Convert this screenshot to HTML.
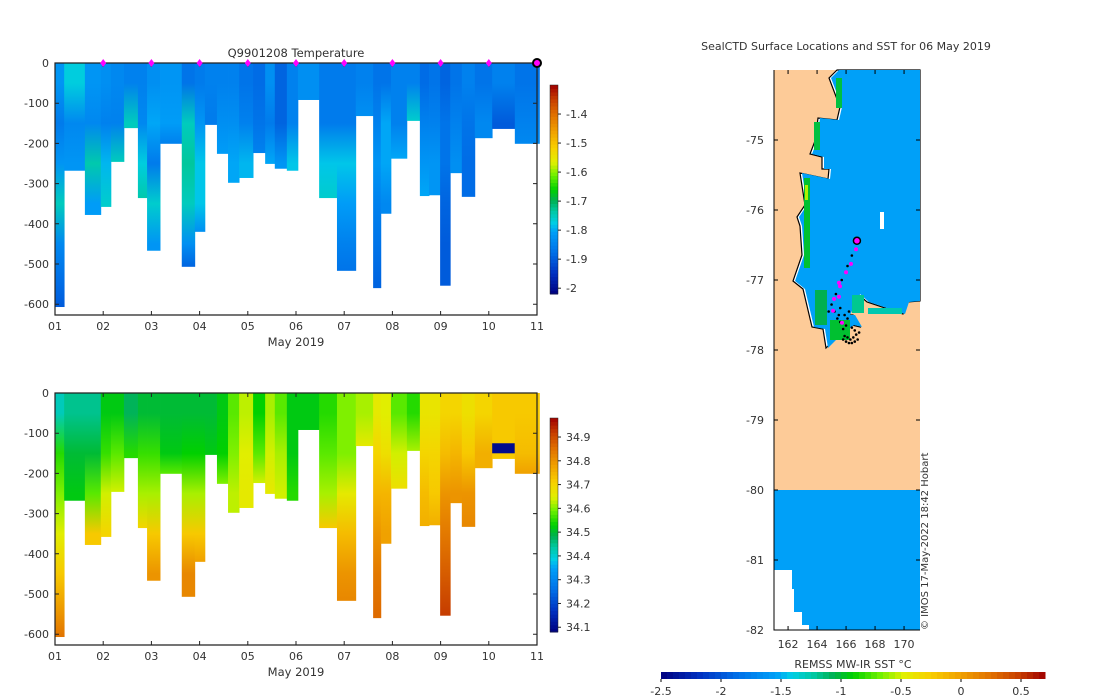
<!DOCTYPE html>
<html><head><meta charset="utf-8"><style>
body{margin:0;background:#fff;width:1100px;height:700px;overflow:hidden}
svg{display:block;font-family:"DejaVu Sans","Liberation Sans",sans-serif;font-size:11px;fill:#333}
</style></head><body>
<svg id="fig" width="1100" height="700" xmlns="http://www.w3.org/2000/svg">
<defs id="defs"></defs>
<g id="topPanel"></g>
<g id="botPanel"></g>
<g id="mapPanel"></g>
</svg>
<script>
// ---- section data ----
const profileStart=[0,0.19,0.62,0.95,1.16,1.43,1.72,1.91,2.18,2.63,2.90,3.11,3.36,3.59,3.82,4.11,4.36,4.56,4.81,5.04,5.48,5.85,6.24,6.60,6.76,6.97,7.30,7.57,7.76,7.99,8.20,8.44,8.71,9.07,9.54];
const profileEnd=10.05;
const profileDepth=[607,268,378,358,246,162,336,467,201,507,420,154,226,298,286,224,251,263,268,92,336,517,132,560,375,238,144,331,329,554,274,333,187,164,201];
const tempLevels=[
[-1.82,-1.86,-1.82,-1.75,-1.84,-1.88,-1.9],[-1.77,-1.84,-1.82],[-1.82,-1.84,-1.74,-1.81],[-1.83,-1.85,-1.79,-1.76],
[-1.84,-1.85,-1.75],[-1.85,-1.75],[-1.85,-1.84,-1.77,-1.74],[-1.83,-1.8,-1.86,-1.76,-1.82],
[-1.82,-1.81,-1.85],[-1.87,-1.75,-1.73,-1.75,-1.83,-1.89],[-1.86,-1.82,-1.78,-1.78,-1.83],[-1.85,-1.86],
[-1.85,-1.83,-1.81],[-1.85,-1.83,-1.8],[-1.87,-1.85,-1.79],[-1.88,-1.87,-1.85],
[-1.83,-1.86,-1.8],[-1.89,-1.89,-1.82],[-1.85,-1.85,-1.78],[-1.83],
[-1.86,-1.86,-1.78,-1.76],[-1.86,-1.86,-1.78,-1.81,-1.85,-1.87],[-1.85,-1.83],[-1.87,-1.85,-1.82,-1.85,-1.87,-1.89],
[-1.87,-1.8,-1.8,-1.84],[-1.85,-1.85,-1.8],[-1.85,-1.76],[-1.88,-1.85,-1.82,-1.8],
[-1.87,-1.85,-1.82,-1.82],[-1.89,-1.87,-1.87,-1.89,-1.9,-1.9],[-1.87,-1.85,-1.83],[-1.85,-1.87,-1.88,-1.88],
[-1.87,-1.84],[-1.85,-1.9],[-1.87,-1.85,-1.84]];
const salLevels=[
[34.42,34.55,34.6,34.65,34.72,34.8,34.85],[34.45,34.5,34.52],[34.45,34.5,34.58,34.72],[34.52,34.56,34.64,34.7],
[34.52,34.58,34.64],[34.48,34.55],[34.5,34.56,34.62,34.7],[34.5,34.56,34.62,34.72,34.8],
[34.5,34.52,34.58],[34.5,34.53,34.62,34.72,34.82],[34.5,34.53,34.62,34.72,34.78],[34.5,34.52],
[34.52,34.53,34.6],[34.58,34.6,34.63],[34.63,34.65,34.66],[34.53,34.58,34.64],
[34.62,34.64,34.66],[34.58,34.62,34.64],[34.52,34.52,34.55],[34.52],
[34.55,34.58,34.62,34.72],[34.6,34.6,34.66,34.74,34.8,34.82],[34.62,34.66],[34.66,34.7,34.75,34.8,34.84,34.86],
[34.65,34.68,34.75,34.78],[34.58,34.64,34.68],[34.55,34.62],[34.67,34.7,34.74,34.76],
[34.67,34.7,34.72,34.76],[34.7,34.74,34.8,34.84,34.88,34.92],[34.7,34.75,34.8],[34.68,34.72,34.8,34.82],
[34.7,34.76],[34.72,34.72],[34.72,34.74,34.78]];
const lowSalBand=[33,125,150,34.1];
const dayTicks=["01","02","03","04","05","06","07","08","09","10","11"];
const depthTicks=[0,-100,-200,-300,-400,-500,-600];
const tempCbTicks=[-2,-1.9,-1.8,-1.7,-1.6,-1.5,-1.4];
const salCbTicks=[34.1,34.2,34.3,34.4,34.5,34.6,34.7,34.8,34.9];
// ---- map data ----
const magentaLon=[166.69,166.34,166.0,165.51,165.58,165.17,165.51,165.10,165.72];
const magentaLat=[-76.56,-76.77,-76.89,-77.04,-77.09,-77.27,-77.24,-77.44,-77.61];
const latestPos=[166.75,-76.44];
const blackLon=[166.4,166.1,165.7,165.3,165.0,164.8,165.6,165.9,166.1,165.4,165.6,166.0,165.8,166.4,166.6,165.9,166.1,166.3,166.5,166.7,166.9,166.2,166.4,166.6,165.8,166.0,166.8,165.5,165.2,166.2];
const blackLat=[-76.65,-76.8,-77.0,-77.2,-77.35,-77.45,-77.4,-77.5,-77.55,-77.55,-77.6,-77.65,-77.7,-77.68,-77.72,-77.8,-77.82,-77.85,-77.82,-77.78,-77.75,-77.9,-77.9,-77.88,-77.85,-77.88,-77.85,-77.5,-77.45,-77.45];
const lonTicks=[162,164,166,168,170];
const latTicks=[-75,-76,-77,-78,-79,-80,-81,-82];
const sstTicks=[-2.5,-2,-1.5,-1,-0.5,0,0.5];

const NS="http://www.w3.org/2000/svg";
const defs=document.getElementById('defs');
function mk(p,tag,attrs,txt){const e=document.createElementNS(NS,tag);for(const k in attrs)e.setAttribute(k,attrs[k]);if(txt!==undefined)e.textContent=txt;p.appendChild(e);return e;}
const stops=[[0,[0,0,127]],[0.1,[0,48,192]],[0.2,[0,112,232]],[0.3,[0,160,248]],[0.34,[0,206,230]],[0.4,[0,200,160]],[0.45,[0,176,80]],[0.5,[0,208,0]],[0.57,[112,240,0]],[0.63,[224,240,0]],[0.7,[248,208,0]],[0.78,[240,160,0]],[0.86,[224,112,0]],[0.93,[200,64,0]],[1,[160,0,0]]];
function cmap(t){t=Math.max(0,Math.min(1,t));for(let i=1;i<stops.length;i++){if(t<=stops[i][0]){const a=stops[i-1],b=stops[i];const f=(t-a[0])/(b[0]-a[0]);const c=a[1].map((v,j)=>Math.round(v+(b[1][j]-v)*f));return "rgb("+c.join(",")+")";}}return "rgb(160,0,0)";}

const X0=55,X1=537,DAYW=(X1-X0)/10;
const xDay=d=>X0+d*DAYW;
function section(g,y0,yBot,levels,vmin,vmax,cbY0,cbY1,cbTicks,fmt,which){
  const yD=d=>y0+d*0.402;
  const norm=v=>(v-vmin)/(vmax-vmin);
  for(let i=0;i<profileStart.length;i++){
    const xa=xDay(profileStart[i]),xb=xDay(i+1<profileStart.length?profileStart[i+1]:profileEnd);
    const lv=levels[i],dep=profileDepth[i];
    const gid=which+"g"+i;
    const lg=mk(defs,"linearGradient",{id:gid,x1:0,y1:0,x2:0,y2:1});
    lv.forEach((v,k)=>{const mid=Math.min(k*100+50,dep);mk(lg,"stop",{offset:(mid/dep).toFixed(4),"stop-color":cmap(norm(v))});});
    const r=mk(g,"rect",{x:xa,y:y0,width:xb-xa+0.4,height:yD(dep)-y0,fill:"url(#"+gid+")"});
    
    
    if(which==="sal"&&i===lowSalBand[0]){
      const b=mk(g,"rect",{x:xa,y:yD(lowSalBand[1]),width:xb-xa,height:yD(lowSalBand[2])-yD(lowSalBand[1]),fill:cmap(norm(lowSalBand[3]))});
      
      
    }
  }
  mk(g,"path",{d:"M"+X0+" "+y0+"H"+X1+"V"+yBot+"H"+X0+"Z",fill:"none",stroke:"#222","stroke-width":1.2,});
  dayTicks.forEach((t,i)=>{const x=xDay(i);mk(g,"path",{d:"M"+x+" "+yBot+"v-4M"+x+" "+y0+"v4",stroke:"#222"});
    const l=mk(g,"text",{x:x,y:yBot+15,"text-anchor":"middle"},t);});
  depthTicks.forEach(t=>{const y=yD(-t);mk(g,"path",{d:"M"+X0+" "+y+"h4M"+X1+" "+y+"h-4",stroke:"#222"});
    const l=mk(g,"text",{x:X0-6,y:y+4,"text-anchor":"end"},t);});
  mk(g,"text",{x:296,y:yBot+31,"text-anchor":"middle","font-size":"11.5",},"May 2019");
  const n=60;for(let j=0;j<n;j++){const v=vmin+(vmax-vmin)*(j+0.5)/n;const h=(cbY1-cbY0)/n;
    mk(g,"rect",{x:550,y:cbY1-(j+1)*h,width:8,height:h+0.5,fill:cmap(norm(v))});}
  mk(g,"rect",{x:550,y:cbY0,width:8,height:cbY1-cbY0,fill:"none",stroke:"#222","stroke-width":0.5,});
  cbTicks.forEach(t=>{const y=cbY1-(t-vmin)/(vmax-vmin)*(cbY1-cbY0);mk(g,"path",{d:"M558 "+y+"h3",stroke:"#222"});
    const l=mk(g,"text",{x:566,y:y+4},fmt(t));});
}
const topG=document.getElementById('topPanel'),botG=document.getElementById('botPanel');
section(topG,63,315,tempLevels,-2.02,-1.30,85,294,tempCbTicks,v=>String(+v.toFixed(1)),"temp");
section(botG,393,645,salLevels,34.08,34.98,418,632,salCbTicks,v=>v.toFixed(1),"sal");
mk(topG,"text",{x:296,y:57,"text-anchor":"middle","font-size":"11.5",},"Q9901208  Temperature");
for(let d=1;d<=9;d++){const m=mk(topG,"path",{d:"M"+xDay(d)+" 59l3 4l-3 4l-3-4z",fill:"#f0f"});}
mk(topG,"circle",{cx:X1,cy:63,r:4,fill:"#f0f",stroke:"#000","stroke-width":2,});

// ---- map ----
const mp=document.getElementById('mapPanel');
const LON0=161.03,LON1=171.1,MX0=774,MX1=920,LAT0=-74,MY0=70;
const mx=l=>MX0+(l-LON0)/(LON1-LON0)*(MX1-MX0);
const my=l=>MY0+(LAT0-l)*70;
mk(mp,"text",{x:846,y:50,"text-anchor":"middle","font-size":"11",},"SealCTD Surface Locations and SST for 06 May 2019");
mk(mp,"rect",{x:774,y:70,width:146,height:420,fill:"#fdcb98",});
const coast=[[837,70],[829,78],[840,107],[837,120],[818,118],[815,141],[810,154],[822,157],[822,169],[829,169],[828,179],[800,173],[805,205],[797,217],[800,226],[802,255],[793,281],[803,289],[812,327],[823,329],[826,348],[840,334],[852,325],[860,327],[853,315],[848,315],[858,294],[867,302],[903,314],[907,302],[920,301],[920,70]];
mk(mp,"polygon",{points:coast.map(p=>p.join(",")).join(" "),fill:"#fff",stroke:"#000","stroke-width":1.2,});
const ocean=coast.map(p=>[p[0]+(p[0]<918?2:0),p[1]]);
mk(mp,"polygon",{points:ocean.map(p=>p.join(",")).join(" "),fill:"#00a0f8",});
[[836,78,6,30,"#00c040"],[814,122,6,28,"#00c040"],[804,178,6,90,"#00c030"],[815,290,12,35,"#00b050"],[830,320,20,20,"#00c030"],[852,295,12,18,"#00c890"],[868,308,34,6,"#00c8b0"],[805,185,3,15,"#b0f000"]].forEach(r=>{const e=mk(mp,"rect",{x:r[0],y:r[1],width:r[2],height:r[3],fill:r[4]});});
mk(mp,"rect",{x:880,y:212,width:4,height:17,fill:"#fff"});
mk(mp,"rect",{x:774,y:490,width:146,height:140,fill:"#00a0f8",});
[[774,570,18,60],[774,589,20,41],[774,612,28,18],[774,625,35,5]].forEach(r=>mk(mp,"rect",{x:r[0],y:r[1],width:r[2],height:r[3],fill:"#fff"}));
blackLon.forEach((l,i)=>{const c=mk(mp,"circle",{cx:mx(l),cy:my(blackLat[i]),r:1.3,fill:"#000"});});
magentaLon.forEach((l,i)=>{const c=mk(mp,"circle",{cx:mx(l),cy:my(magentaLat[i]),r:2,fill:"#f0f"});});
mk(mp,"circle",{cx:mx(latestPos[0]),cy:my(latestPos[1]),r:3.5,fill:"#f0f",stroke:"#000","stroke-width":1.5,});
mk(mp,"path",{d:"M774 70V630H920",fill:"none",stroke:"#000","stroke-width":1});
lonTicks.forEach(t=>{const x=mx(t);mk(mp,"path",{d:"M"+x+" 630v-4M"+x+" 70v4",stroke:"#000"});
  const l=mk(mp,"text",{x:x,y:648,"text-anchor":"middle"},t);});
latTicks.forEach(t=>{const y=my(t);mk(mp,"path",{d:"M774 "+y+"h4M920 "+y+"h-4",stroke:"#000"});
  const l=mk(mp,"text",{x:764,y:y+4,"text-anchor":"end"},t);});
mk(mp,"text",{x:0,y:0,transform:"translate(928,630) rotate(-90)","font-size":"10",},"© IMOS 17-May-2022 18:42 Hobart");
mk(mp,"text",{x:853,y:668,"text-anchor":"middle",},"REMSS MW-IR SST °C");
const SMIN=-2.5,SMAX=0.7,CX0=661,CX1=1045;
const sx=v=>CX0+(v-SMIN)/(SMAX-SMIN)*(CX1-CX0);
for(let j=0;j<64;j++){const v=SMIN+(SMAX-SMIN)*(j+0.5)/64;const w=(CX1-CX0)/64;mk(mp,"rect",{x:CX0+j*w,y:672,width:w+0.5,height:7,fill:cmap((v+2.5)/3.2)});}
mk(mp,"rect",{x:CX0,y:672,width:CX1-CX0,height:7,fill:"none",});
sstTicks.forEach(t=>{const x=sx(t);mk(mp,"path",{d:"M"+x+" 679v3",stroke:"#000"});
  const l=mk(mp,"text",{x:x,y:695,"text-anchor":"middle"},t);});
</script>
</body></html>
